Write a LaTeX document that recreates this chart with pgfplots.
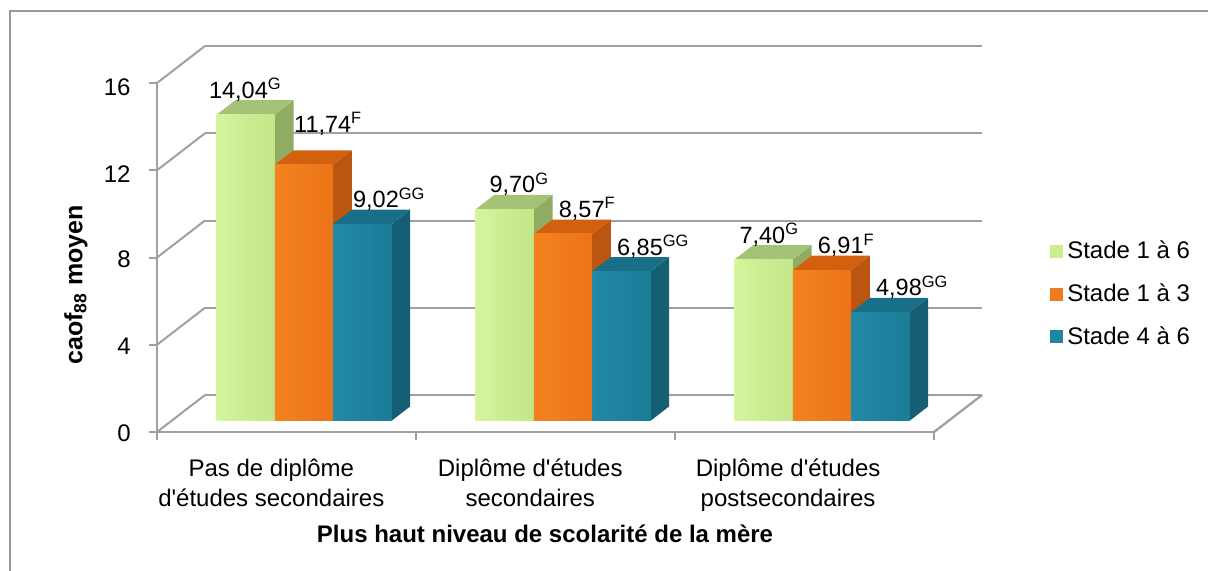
\documentclass[border=0pt]{standalone}
\usepackage{fontspec}
\setmainfont{Liberation Sans}
\usepackage{pgfplots}
\pgfplotsset{compat=1.18}
\definecolor{gF}{HTML}{CCEF8E}
\definecolor{gL}{HTML}{D4F59C}
\definecolor{gR}{HTML}{C3E688}
\definecolor{gS}{HTML}{8FAC62}
\definecolor{gT}{HTML}{A5C376}
\definecolor{oF}{HTML}{F07B1E}
\definecolor{oL}{HTML}{F5821F}
\definecolor{oR}{HTML}{EB7418}
\definecolor{oS}{HTML}{BA560F}
\definecolor{oT}{HTML}{D2600F}
\definecolor{tF}{HTML}{1F85A0}
\definecolor{tL}{HTML}{2289A6}
\definecolor{tR}{HTML}{1B7C97}
\definecolor{tS}{HTML}{165E74}
\definecolor{tT}{HTML}{1A6F88}
\definecolor{gridc}{HTML}{A0A0A0}
\newcommand\cub[4]{%
 \addplot3[fill=#4S,draw=none,forget plot] coordinates {(#2,0.30,0) (#2,0.69,0) (#2,0.69,#3) (#2,0.30,#3)};
 \addplot3[fill=#4T,draw=none,forget plot] coordinates {(#1,0.30,#3) (#2,0.30,#3) (#2,0.69,#3) (#1,0.69,#3)};
 \addplot3[left color=#4L,right color=#4R,draw=none,forget plot] coordinates {(#1,0.30,0) (#2,0.30,0) (#2,0.30,#3) (#1,0.30,#3)};
}
\begin{document}
\begin{tikzpicture}
\begin{axis}[
 at={(78.5pt,-216pt)}, anchor=origin,
 x={(129.5pt,0pt)}, y={(24pt,18.5pt)}, z={(0pt,10.906pt)},
 xmin=0,xmax=3,ymin=0,ymax=1,zmin=0,zmax=16,
 clip=false,
 axis lines=left, axis line style={gridc, line width=1pt, -},
 ztick={0,4,8,12,16}, ytick=\empty,
 xtick={0,1,2,3}, xticklabels={},
 extra x ticks={0.5,1.5,2.5},
 extra x tick labels={{Pas de diplôme\\d\textquotesingle études secondaires}, {Diplôme d\textquotesingle études\\secondaires}, {Diplôme d\textquotesingle études\\postsecondaires}},
 extra x tick style={major tick length=0pt},
 xticklabel style={align=center, font=\fontsize{12}{15}\selectfont, yshift=-10pt},
 zticklabel style={font=\fontsize{12}{14}\selectfont, xshift=-6.5pt, yshift=4pt},
 /pgf/number format/assume math mode=true,
 zmajorgrids, major grid style={gridc, line width=1pt},
 tick style={draw=none}, major tick length=4pt, tick align=outside,
 legend style={at={(1.075,0.3575)}, anchor=west, draw=none, fill=none, font=\fontsize{12}{14}\selectfont, row sep=7pt},
 legend cell align=left,
 legend image code/.code={\fill[#1] (0pt,-3.25pt) rectangle (6.5pt,3.25pt);},
]
\addlegendimage{fill=gF, draw=none}
\addlegendentry{Stade 1 à 6}
\addlegendimage{fill=oF, draw=none}
\addlegendentry{Stade 1 à 3}
\addlegendimage{fill=tF, draw=none}
\addlegendentry{Stade 4 à 6}
\draw[gridc, line width=1pt] (axis cs:3,0,0) -- (axis cs:3,1,0);
\draw[gridc, line width=1pt] (axis cs:0,0,0) -- ++(-4pt,0pt);
\draw[gridc, line width=1pt] (axis cs:0,0,4) -- ++(-4pt,0pt);
\draw[gridc, line width=1pt] (axis cs:0,0,8) -- ++(-4pt,0pt);
\draw[gridc, line width=1pt] (axis cs:0,0,12) -- ++(-4pt,0pt);
\draw[gridc, line width=1pt] (axis cs:0,0,16) -- ++(-4pt,0pt);
\draw[gridc, line width=1pt] (axis cs:0,0,0) -- ++(0pt,-4pt);
\draw[gridc, line width=1pt] (axis cs:1,0,0) -- ++(0pt,-4pt);
\draw[gridc, line width=1pt] (axis cs:2,0,0) -- ++(0pt,-4pt);
\draw[gridc, line width=1pt] (axis cs:3,0,0) -- ++(0pt,-4pt);
% group 1
\cub{0.1744}{0.3994}{14.04}{g}
\cub{0.3994}{0.6244}{11.74}{o}
\cub{0.6244}{0.8494}{9.02}{t}
% group 2
\cub{1.1744}{1.3994}{9.70}{g}
\cub{1.3994}{1.6244}{8.57}{o}
\cub{1.6244}{1.8494}{6.85}{t}
% group 3
\cub{2.1744}{2.3994}{7.40}{g}
\cub{2.3994}{2.6244}{6.91}{o}
\cub{2.6244}{2.8494}{4.98}{t}
\addplot3[draw=none, mark=none, forget plot, nodes near coords, point meta=explicit symbolic,
  visualization depends on={\thisrow{dx} \as \ldx},
  visualization depends on={\thisrow{dy} \as \ldy},
  nodes near coords style={anchor=base, xshift=\ldx pt, yshift=\ldy pt, font=\fontsize{11.75}{14}\selectfont, inner sep=0pt}]
 table[x=x, y=y, z=z, meta=lab] {
x y z dx dy lab
0.2869 0.69 14.04 -13 1 14,04\rlap{\textsuperscript{G}}
0.5119 0.69 11.74 0 9 11,74\rlap{\textsuperscript{F}}
0.7369 0.69 9.02 -2.5 1 9,02\rlap{\textsuperscript{GG}}
1.2869 0.69 9.70 -5.5 1 9,70\rlap{\textsuperscript{G}}
1.5119 0.69 8.57 0 1 8,57\rlap{\textsuperscript{F}}
1.7369 0.69 6.85 0 1 6,85\rlap{\textsuperscript{GG}}
2.2869 0.69 7.40 -10 1 7,40\rlap{\textsuperscript{G}}
2.5119 0.69 6.91 0 1 6,91\rlap{\textsuperscript{F}}
2.7369 0.69 4.98 0 1 4,98\rlap{\textsuperscript{GG}}
};
\end{axis}
\node[rotate=90, font=\bfseries\fontsize{12.5}{14}\selectfont] at (38pt,-142.5pt) {caof\textsubscript{88} moyen};
\node[font=\bfseries\fontsize{12}{14}\selectfont] at (272.5pt,-267pt) {Plus haut niveau de scolarité de la mère};
\draw[gray!80, line width=1pt] (5pt,-290pt) -- (5pt,-5.5pt) -- (610pt,-5.5pt);
\pgfresetboundingbox
\path (0pt,0pt) rectangle (604pt,-285.5pt);
\end{tikzpicture}
\end{document}
